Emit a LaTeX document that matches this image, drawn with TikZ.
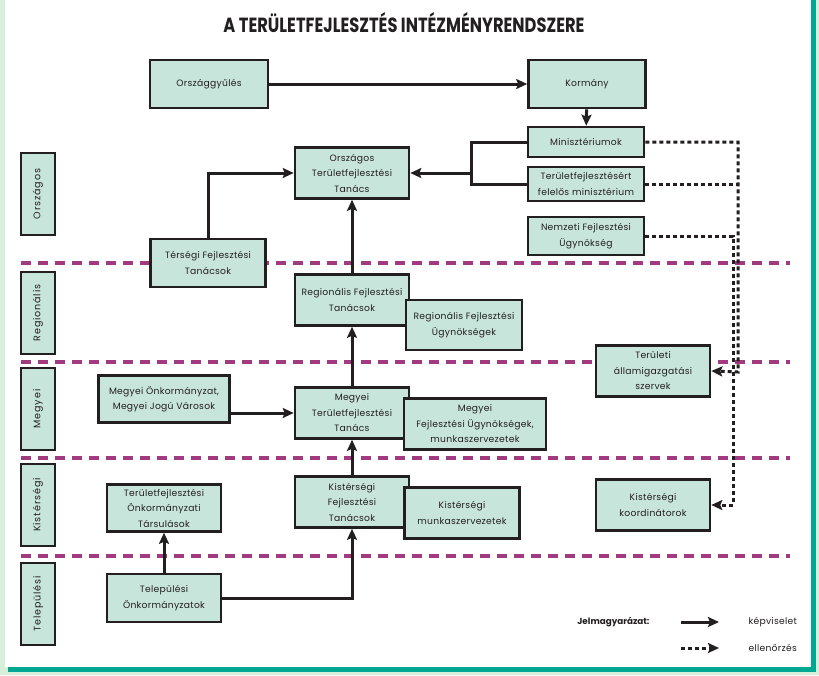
\documentclass[tikz,border=0pt]{standalone}
\usepackage{fontspec}
\setmainfont{Poppins}[LetterSpace=3]
\usetikzlibrary{arrows.meta}
\definecolor{boxfill}{HTML}{C8E5DC}
\definecolor{lanecol}{HTML}{A23A82}
\definecolor{edgeteal}{HTML}{00A792}
\definecolor{paleg}{HTML}{D8EFDB}
\definecolor{ink}{HTML}{231F20}

\begin{document}
\begin{tikzpicture}[x=1pt,y=-1pt,
  every node/.style={font=\fontsize{9.2}{15.5}\selectfont,text=ink},
  inst/.style={draw=ink,line width=2.6pt,fill=boxfill,align=center,inner sep=0pt,
    minimum width=114pt,minimum height=51pt},
  lane/.style={inst,rotate=90,minimum width=82pt,minimum height=34pt,
    font=\fontsize{9.6}{11}\selectfont\addfontfeature{LetterSpace=9}},
  link/.style={draw=ink,line width=3pt},
  rep/.style={link,-{Stealth[length=11pt,width=10pt,inset=2pt]}},
  ctrl/.style={draw=ink,line width=3pt,dash pattern=on 4pt off 3pt},
  sep/.style={draw=lanecol,line width=3.2pt,dash pattern=on 10pt off 7pt}]
  \useasboundingbox (0,0) rectangle (819,675);
  \fill[paleg] (0,0) rectangle (819,675);
  \fill[white] (5,0) rectangle (813,667);
  \fill[edgeteal] (811,0) rectangle (816,672);
  \fill[edgeteal] (8,667) rectangle (816,672);

  \node[anchor=base] (title) at (404,32) {\resizebox{361pt}{20pt}{\addfontfeature{LetterSpace=0}\bfseries A TERÜLETFEJLESZTÉS INTÉZMÉNYRENDSZERE}};

  \draw[sep] (21,263) -- (790,263);
  \draw[sep] (21,362) -- (790,362);
  \draw[sep] (21,458) -- (790,458);
  \draw[sep] (21,556) -- (790,556);

  \node[lane] (lo) at (38,194) {Országos};
  \node[lane] (lr) at (38,313) {Regionális};
  \node[lane] (lm) at (38,409) {Megyei};
  \node[lane] (lk) at (38,505) {Kistérségi};
  \node[lane] (lt) at (38,604) {Települési};

  \node[inst,minimum width=118pt,minimum height=48pt] (parl) at (209,84) {Országgyűlés};
  \node[inst,minimum width=117pt,minimum height=48pt] (govt) at (587,84) {Kormány};
  \node[inst,minimum width=116pt,minimum height=30pt] (mins) at (586,142) {Minisztériumok};
  \node[inst,minimum width=116pt,minimum height=34pt] (resp) at (586,184) {Területfejlesztésért\\felelős minisztérium};
  \node[inst,minimum width=116pt,minimum height=38pt] (nfu) at (586,236) {Nemzeti Fejlesztési\\Ügynökség};
  \node[inst] (ott) at (352,173) {Országos\\Területfejlesztési\\Tanács};
  \node[inst,minimum width=115pt,minimum height=48pt] (tft) at (208,263) {Térségi Fejlesztési\\Tanácsok};
  \node[inst] (rft) at (352,300) {Regionális Fejlesztési\\Tanácsok};
  \node[inst,minimum width=116pt,minimum height=50pt] (rfu) at (464,325) {Regionális Fejlesztési\\Ügynökségek};
  \node[inst,minimum width=114pt] (tasz) at (653,371) {Területi\\államigazgatási\\szervek};
  \node[inst,minimum width=131pt,minimum height=47pt] (mo) at (164,399) {Megyei Önkormányzat,\\Megyei Jogú Városok};
  \node[inst] (mtt) at (352,413) {Megyei\\Területfejlesztési\\Tanács};
  \node[inst,minimum width=142pt] (mfu) at (475,424) {Megyei\\Fejlesztési Ügynökségek,\\munkaszervezetek};
  \node[inst,minimum height=47pt] (tas) at (164,508) {Területfejlesztési\\Önkormányzati\\Társulások};
  \node[inst] (kft) at (352,502) {Kistérségi\\Fejlesztési\\Tanácsok};
  \node[inst,minimum width=115pt] (kmsz) at (462,513) {Kistérségi\\munkaszervezetek};
  \node[inst] (kk) at (653,505) {Kistérségi\\koordinátorok};
  \node[inst,minimum height=48pt] (to) at (164,598) {Települési\\Önkormányzatok};

  \draw[rep] (parl) -- (govt);
  \draw[rep] (govt) -- (mins);
  \coordinate (br) at (471,173);
  \draw[link] (mins.west) -| (br) |- (resp.west);
  \draw[rep] (br) -- (ott.east);
  \draw[rep] (tft.north) |- (ott.west);
  \draw[rep] (rft) -- (ott);
  \draw[rep] (mtt) -- (rft);
  \draw[rep] (mo.east |- mtt.west) -- (mtt.west);
  \draw[rep] (kft) -- (mtt);
  \draw[rep] (to) -- (tas);
  \draw[rep] (to.east) -| (kft.south);

  \coordinate (dn1) at (738,372);
  \coordinate (dn2) at (733,505);
  \draw[ctrl,-{Stealth[length=11pt,width=10pt,inset=2pt]}] (mins.east) -| (dn1) -- (tasz.east);
  \draw[ctrl] (resp.east) -- (resp.east -| dn1);
  \draw[ctrl,-{Stealth[length=11pt,width=10pt,inset=2pt]}] (nfu.east) -| (dn2) -- (kk.east);

  \node[anchor=east,font=\fontsize{8.8}{10}\selectfont\bfseries\addfontfeature{LetterSpace=0}] (key) at (653,622) {Jelmagyarázat:};
  \coordinate (ka) at (681,622);
  \coordinate (kb) at (719,622);
  \coordinate (kc) at (681,648);
  \coordinate (kd) at (719,648);
  \draw[rep] (ka) -- (kb);
  \draw[ctrl,-{Stealth[length=11pt,width=10pt,inset=2pt]}] (kc) -- (kd);
  \node[anchor=west] (krep) at (745,622) {képviselet};
  \node[anchor=west] (kctl) at (745,648) {ellenőrzés};
\end{tikzpicture}
\end{document}
